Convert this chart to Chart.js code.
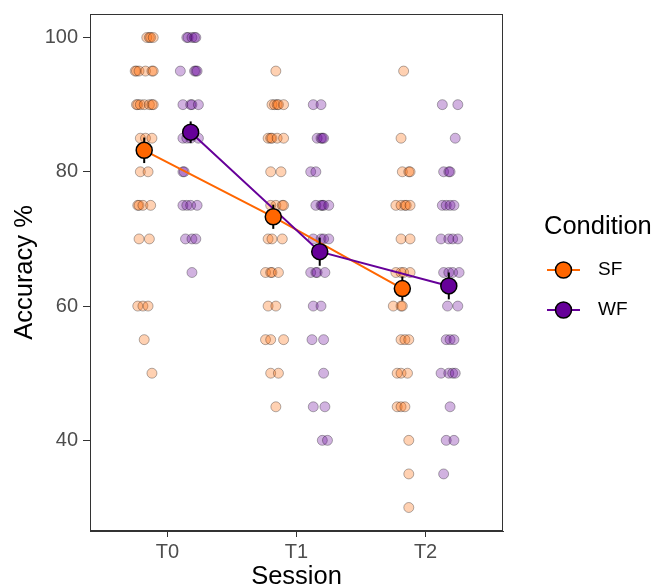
<!DOCTYPE html>
<html>
<head>
<meta charset="utf-8">
<script src="https://cdn.jsdelivr.net/npm/chart.js@4.4.0/dist/chart.umd.min.js"></script>
<style>
body { margin: 0; background: #fff; }
</style>
</head>
<body>
<canvas id="myChart" width="654" height="587"></canvas>
<script>
var sessions = ['T0', 'T1', 'T2'];
var conditions = ['SF', 'WF'];
var yTicks = [40, 60, 80, 100];

// raw scores (jittered x positions)
var sfY = [
  100, 100, 100, 100,
  95, 95, 95, 95, 95, 95,
  90, 90, 90, 90, 90, 90, 90,
  85, 85, 85, 80, 80, 75, 75, 75, 75, 70, 70, 60, 60, 60, 55, 50,
  95, 90, 90, 90, 90, 90, 85, 85, 85, 85, 85, 80, 80,
  75, 75, 75, 75, 70, 70, 70, 65, 65, 65, 65, 60, 60, 55, 55, 55, 50, 50, 45,
  95, 85, 80, 80, 80, 75, 75, 75, 75, 75, 70, 70, 65, 65, 65, 65,
  60, 60, 60, 55, 55, 55, 50, 50, 50, 45, 45, 45, 40, 35, 30
];
var sfX = [
  0.84, 0.86, 0.87, 0.89,
  0.75, 0.76, 0.78, 0.83, 0.88, 0.89,
  0.76, 0.77, 0.79, 0.82, 0.86, 0.88, 0.89,
  0.79, 0.83, 0.88, 0.79, 0.85, 0.77, 0.78, 0.81, 0.87, 0.78, 0.86, 0.77, 0.81, 0.85, 0.82, 0.88,
  1.84, 1.81, 1.83, 1.85, 1.86, 1.90, 1.78, 1.80, 1.81, 1.85, 1.90, 1.80, 1.88,
  1.80, 1.84, 1.89, 1.90, 1.78, 1.81, 1.89, 1.76, 1.80, 1.81, 1.86, 1.78, 1.84, 1.76, 1.80, 1.90, 1.80, 1.86, 1.84,
  2.83, 2.81, 2.82, 2.87, 2.88, 2.77, 2.81, 2.84, 2.85, 2.88, 2.81, 2.88, 2.77, 2.81, 2.83, 2.88,
  2.75, 2.81, 2.82, 2.81, 2.84, 2.87, 2.78, 2.81, 2.86, 2.78, 2.81, 2.84, 2.87, 2.87, 2.87
];
var wfY = [
  100, 100, 100, 100, 100, 95, 95, 95, 95, 90, 90, 90, 90, 85, 85, 85, 85,
  80, 80, 75, 75, 75, 75, 70, 70, 70, 65,
  90, 90, 85, 85, 85, 85, 80, 80, 75, 75, 75, 75, 75, 70, 70, 70, 70,
  65, 65, 65, 65, 60, 60, 55, 55, 50, 45, 45, 40, 40,
  90, 90, 85, 80, 80, 80, 75, 75, 75, 75, 70, 70, 70, 70, 65, 65, 65, 65,
  60, 60, 55, 55, 55, 50, 50, 50, 50, 45, 40, 40, 35
];
var wfX = [
  1.15, 1.16, 1.19, 1.21, 1.22, 1.10, 1.21, 1.22, 1.23, 1.12, 1.18, 1.19, 1.24, 1.12, 1.15, 1.18, 1.24,
  1.12, 1.13, 1.12, 1.15, 1.18, 1.23, 1.14, 1.19, 1.22, 1.19,
  2.13, 2.19, 2.16, 2.19, 2.20, 2.21, 2.11, 2.15, 2.15, 2.19, 2.20, 2.21, 2.25, 2.13, 2.19, 2.21, 2.25,
  2.11, 2.15, 2.16, 2.22, 2.13, 2.19, 2.12, 2.21, 2.21, 2.13, 2.22, 2.20, 2.24,
  3.13, 3.25, 3.23, 3.14, 3.18, 3.19, 3.13, 3.16, 3.19, 3.22, 3.12, 3.18, 3.21, 3.25, 3.14, 3.18, 3.21, 3.26,
  3.17, 3.25, 3.16, 3.19, 3.22, 3.12, 3.18, 3.21, 3.23, 3.19, 3.16, 3.22, 3.14
];

// condition means and standard errors per session
var sfMean = [83.2, 73.3, 62.6];
var wfMean = [85.9, 68.1, 63.0];
var sfSe = [1.9, 1.8, 1.8];
var wfSe = [1.6, 2.1, 2.0];

var sfColor = '#FF6600';
var wfColor = '#660099';
var dodge = 0.18;

function pts(xs, ys) {
  return xs.map(function (x, i) { return { x: x, y: ys[i] }; });
}
function meanPts(means, off) {
  return means.map(function (m, i) { return { x: i + 1 + off, y: m }; });
}

var errorBars = {
  id: 'errorBars',
  beforeDatasetDraw: function (chart, args) {
    var ds = chart.data.datasets[args.index];
    if (!ds.se) return;
    var ctx = chart.ctx, xs = chart.scales.x, ys = chart.scales.y;
    ctx.save();
    ctx.strokeStyle = '#000';
    ctx.lineWidth = 2;
    ds.data.forEach(function (p, i) {
      var px = xs.getPixelForValue(p.x);
      ctx.beginPath();
      ctx.moveTo(px, ys.getPixelForValue(p.y - ds.se[i]));
      ctx.lineTo(px, ys.getPixelForValue(p.y + ds.se[i]));
      ctx.stroke();
    });
    ctx.restore();
  }
};

var frameAndLegend = {
  id: 'frameAndLegend',
  afterDraw: function (chart) {
    var ctx = chart.ctx, a = chart.chartArea;
    ctx.save();
    ctx.strokeStyle = '#333333';
    ctx.lineWidth = 1;
    ctx.strokeRect(a.left + 0.5, a.top + 0.5, a.right - a.left - 1, a.bottom - a.top - 1);

    ctx.fillStyle = '#000';
    ctx.textBaseline = 'middle';
    ctx.textAlign = 'left';
    ctx.font = '25.5px "Liberation Sans", Arial, sans-serif';
    ctx.fillText('Condition', 544, 227);

    var cols = [sfColor, wfColor];
    conditions.forEach(function (c, i) {
      var y = 270 + i * 40;
      ctx.strokeStyle = cols[i];
      ctx.lineWidth = 2;
      ctx.beginPath();
      ctx.moveTo(547, y);
      ctx.lineTo(580, y);
      ctx.stroke();
      ctx.beginPath();
      ctx.arc(563.5, y, 8, 0, Math.PI * 2);
      ctx.fillStyle = cols[i];
      ctx.fill();
      ctx.strokeStyle = '#000';
      ctx.lineWidth = 1.5;
      ctx.stroke();
      ctx.fillStyle = '#000';
      ctx.font = '19px "Liberation Sans", Arial, sans-serif';
      ctx.fillText(c, 598, y);
    });
    ctx.restore();
  }
};

var tickFont = { family: '"Liberation Sans", Arial, sans-serif', size: 20 };
var titleFont = { family: '"Liberation Sans", Arial, sans-serif', size: 25.5, lineHeight: 0.75 };

new Chart('myChart', {
  type: 'scatter',
  data: {
    datasets: [
      {
        label: 'SF raw', data: pts(sfX, sfY), order: 6,
        backgroundColor: 'rgba(255,102,0,0.3)', borderColor: 'rgba(0,0,0,0.3)',
        borderWidth: 1, pointRadius: 5
      },
      {
        label: 'WF raw', data: pts(wfX, wfY), order: 5,
        backgroundColor: 'rgba(102,0,153,0.3)', borderColor: 'rgba(0,0,0,0.3)',
        borderWidth: 1, pointRadius: 5
      },
      {
        type: 'line', label: 'SF line', data: meanPts(sfMean, -dodge), order: 4,
        borderColor: sfColor, borderWidth: 2, pointRadius: 0, fill: false
      },
      {
        type: 'line', label: 'WF line', data: meanPts(wfMean, dodge), order: 3,
        borderColor: wfColor, borderWidth: 2, pointRadius: 0, fill: false
      },
      {
        label: 'SF', data: meanPts(sfMean, -dodge), se: sfSe, order: 2,
        backgroundColor: sfColor, borderColor: '#000', borderWidth: 1.5, pointRadius: 8
      },
      {
        label: 'WF', data: meanPts(wfMean, dodge), se: wfSe, order: 1,
        backgroundColor: wfColor, borderColor: '#000', borderWidth: 1.5, pointRadius: 8
      }
    ]
  },
  options: {
    responsive: false,
    animation: false,
    devicePixelRatio: 1,
    layout: { padding: { top: 14, right: 151, left: 0, bottom: 0 } },
    plugins: {
      legend: { display: false },
      tooltip: { enabled: false }
    },
    scales: {
      x: {
        type: 'linear',
        min: 0.4,
        max: 3.6,
        afterBuildTicks: function (s) { s.ticks = sessions.map(function (t, i) { return { value: i + 1 }; }); },
        afterFit: function (s) { s.height = 56; s.paddingLeft = 0; s.paddingRight = 0; },
        ticks: {
          color: '#4D4D4D', font: tickFont, padding: 3,
          callback: function (v) { return sessions[v - 1]; }
        },
        grid: { drawOnChartArea: false, tickLength: 6, color: '#333333' },
        border: { color: '#333333' },
        title: { display: true, text: 'Session', color: '#000', font: titleFont, padding: { top: 0, bottom: 0 } }
      },
      y: {
        min: 26.5,
        max: 103.5,
        afterBuildTicks: function (s) { s.ticks = yTicks.map(function (v) { return { value: v }; }); },
        afterFit: function (s) { s.width = 90; s.paddingTop = 0; s.paddingBottom = 0; },
        ticks: { color: '#4D4D4D', font: tickFont, padding: 5 },
        grid: { drawOnChartArea: false, tickLength: 7, color: '#333333' },
        border: { color: '#333333' },
        title: { display: true, text: 'Accuracy %', color: '#000', font: titleFont, padding: { top: 15, bottom: 0 } }
      }
    }
  },
  plugins: [errorBars, frameAndLegend]
});
</script>
</body>
</html>
